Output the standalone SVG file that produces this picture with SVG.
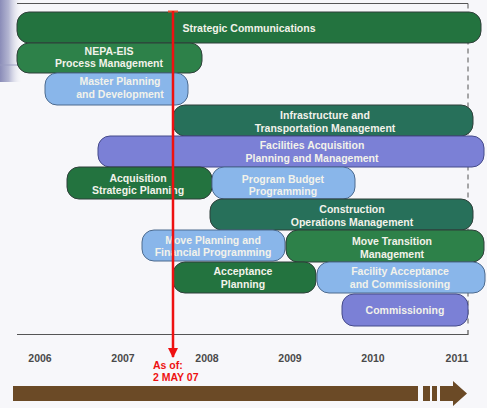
<svg xmlns="http://www.w3.org/2000/svg" width="487" height="408" viewBox="0 0 487 408">
<defs>
<linearGradient id="lb" x1="0" y1="0" x2="1" y2="0">
<stop offset="0" stop-color="#8a8cb8"/>
<stop offset="0.4" stop-color="#b4b6d2"/>
<stop offset="1" stop-color="#f6f6f9" stop-opacity="0"/>
</linearGradient>
<marker id="ah" viewBox="0 0 10 10" refX="9" refY="5" markerWidth="4" markerHeight="4" orient="auto" markerUnits="strokeWidth">
<path d="M0,0 L10,5 L0,10 z" fill="#ee1111"/>
</marker>
</defs>
<style>
.bar{stroke:#2f3f3a;stroke-width:1}
.dg{fill:#23733f}
.mg{fill:#2d8149}
.tg{fill:#27705a}
.lb{fill:#89b6ea;stroke:#4c6a8e}
.pu{fill:#7b80d6;stroke:#454a8a}
.t{font-family:"Liberation Sans",Arial,sans-serif;font-weight:bold;font-size:10.5px;fill:#f2f2ea;text-anchor:middle}
.yr{font-family:"Liberation Sans",Arial,sans-serif;font-weight:bold;font-size:10.5px;fill:#4a4a4a;text-anchor:middle}
.red{font-family:"Liberation Sans",Arial,sans-serif;font-weight:bold;font-size:10.5px;fill:#ee1111}
</style>
<rect width="487" height="408" fill="#f7f7fa"/>
<rect x="0" y="0" width="22" height="82" fill="url(#lb)"/>
<line x1="0" y1="65" x2="45" y2="65" stroke="#9a9cc0" stroke-width="1.5" opacity="0.6"/>
<g id="frame" fill="none" stroke="#555">
<line x1="17" y1="3.5" x2="468" y2="3.5" stroke-width="1.2"/>
<line x1="468" y1="3.5" x2="468" y2="326" stroke-width="1" stroke-dasharray="5,4"/>
<path d="M17,334.5 H468 V330" stroke-width="1.2"/>
</g>
<g id="n1"><rect class="bar dg" x="17" y="12" width="464" height="31" rx="12"/><text class="t" x="249" y="31.5">Strategic Communications</text></g>
<g id="n2"><rect class="bar mg" x="17" y="43" width="185" height="30" rx="12"/><text class="t" x="109" y="55">NEPA-EIS</text><text class="t" x="109" y="66.5">Process Management</text></g>
<g id="n3"><rect class="bar lb" x="45" y="73" width="143" height="32" rx="12"/><text class="t" x="120" y="85">Master Planning</text><text class="t" x="120" y="98">and Development</text></g>
<g id="n4"><rect class="bar tg" x="173" y="105" width="300" height="31" rx="12"/><text class="t" x="325" y="119">Infrastructure and</text><text class="t" x="325" y="131.5">Transportation Management</text></g>
<g id="n5"><rect class="bar pu" x="98" y="136" width="386" height="31" rx="12"/><text class="t" x="312" y="149">Facilities Acquisition</text><text class="t" x="312" y="162">Planning and Management</text></g>
<g id="n6"><rect class="bar dg" x="67" y="167" width="145" height="32" rx="12"/><text class="t" x="138" y="182">Acquisition</text><text class="t" x="138" y="193.5">Strategic Planning</text></g>
<g id="n7"><rect class="bar lb" x="212" y="167" width="143" height="32" rx="12"/><text class="t" x="283" y="183">Program Budget</text><text class="t" x="283" y="194.5">Programming</text></g>
<g id="n8"><rect class="bar tg" x="210" y="199" width="263" height="31" rx="12"/><text class="t" x="352" y="213">Construction</text><text class="t" x="352" y="225.5">Operations Management</text></g>
<g id="n9"><rect class="bar lb" x="142" y="230" width="143" height="31" rx="12"/><text class="t" x="213" y="244">Move Planning and</text><text class="t" x="213" y="256">Financial Programming</text></g>
<g id="n10"><rect class="bar mg" x="286" y="230" width="198" height="32" rx="12"/><text class="t" x="392" y="245">Move Transition</text><text class="t" x="392" y="257.5">Management</text></g>
<g id="n11"><rect class="bar dg" x="173" y="262" width="143" height="31" rx="12"/><text class="t" x="243" y="275">Acceptance</text><text class="t" x="243" y="287.5">Planning</text></g>
<g id="n12"><rect class="bar lb" x="317" y="262" width="168" height="31" rx="12"/><text class="t" x="400" y="275">Facility Acceptance</text><text class="t" x="400" y="288">and Commissioning</text></g>
<g id="n13"><rect class="bar pu" x="342" y="294" width="126" height="32" rx="12"/><text class="t" x="405" y="313.5">Commissioning</text></g>
<g id="years">
<text class="yr" x="40" y="362">2006</text>
<text class="yr" x="123" y="362">2007</text>
<text class="yr" x="207" y="362">2008</text>
<text class="yr" x="290" y="362">2009</text>
<text class="yr" x="373" y="362">2010</text>
<text class="yr" x="457" y="362">2011</text>
</g>
<g id="timeline" fill="#6b4a26">
<rect x="13" y="386" width="405" height="15"/>
<rect x="423" y="386" width="7" height="15"/>
<rect x="432" y="386" width="5" height="15"/>
<path d="M440,386 H453 V381 L467,393.5 L453,406 V401 H440 z"/>
</g>
<g id="connectors">
<line x1="168" y1="11.5" x2="178" y2="11.5" stroke="#e85030" stroke-width="2"/>
<line x1="173" y1="11" x2="173" y2="357" stroke="#ee1111" stroke-width="2.5" marker-end="url(#ah)"/>
</g>
<g id="asof">
<text class="red" x="153" y="369">As of:</text>
<text class="red" x="153" y="381">2 MAY 07</text>
</g>
</svg>
